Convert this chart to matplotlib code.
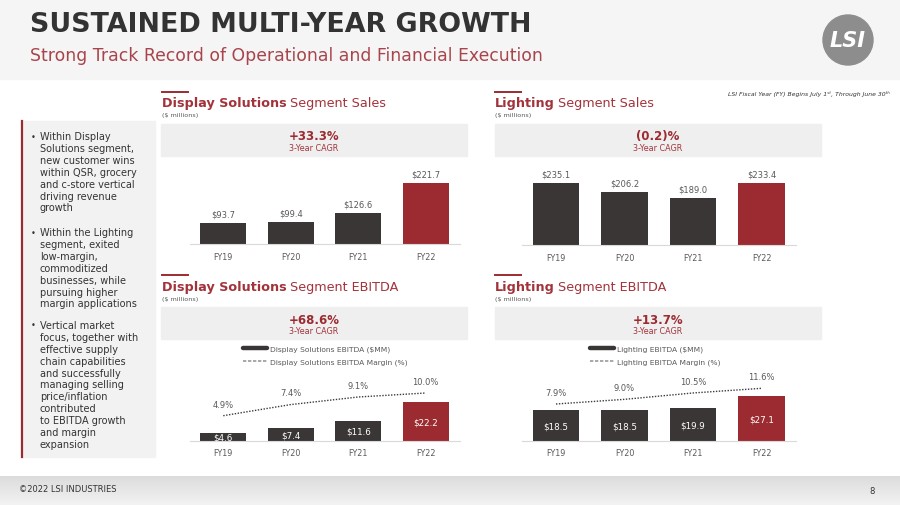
import matplotlib
matplotlib.use("Agg")
import matplotlib.pyplot as plt
import numpy as np
from matplotlib.patches import Rectangle, Circle
from matplotlib.lines import Line2D

plt.rcParams['font.family'] = ['DejaVu Sans']

# ---------------- data ----------------
years = ["FY19", "FY20", "FY21", "FY22"]
ds_sales = [93.7, 99.4, 126.6, 221.7]
lt_sales = [235.1, 206.2, 189.0, 233.4]
ds_ebitda = [4.6, 7.4, 11.6, 22.2]
ds_margin = [4.9, 7.4, 9.1, 10.0]
lt_ebitda = [18.5, 18.5, 19.9, 27.1]
lt_margin = [7.9, 9.0, 10.5, 11.6]
cagr_labels = ["+33.3%", "(0.2)%", "+68.6%", "+13.7%"]

title = "SUSTAINED MULTI-YEAR GROWTH"
subtitle = "Strong Track Record of Operational and Financial Execution"
bullets = [
    ["Within Display", "Solutions segment,", "new customer wins", "within QSR, grocery",
     "and c-store vertical", "driving revenue", "growth"],
    ["Within the Lighting", "segment, exited", "low-margin,", "commoditized",
     "businesses, while", "pursuing higher", "margin applications"],
    ["Vertical market", "focus, together with", "effective supply", "chain capabilities",
     "and successfully", "managing selling", "price/inflation", "contributed",
     "to EBITDA growth", "and margin", "expansion"],
]

# ---------------- style ----------------
W, H = 900, 506
RED = "#9c2b31"
RED_T = "#a3333b"
DARK = "#3a3636"
GRAY_T = "#595959"
BOX = "#efefef"

fig = plt.figure(figsize=(W / 100, H / 100), dpi=100)
fig.patch.set_facecolor("white")
bg = fig.add_axes([0, 0, 1, 1], zorder=0)
bg.set_xlim(0, W)
bg.set_ylim(H, 0)
bg.axis("off")
renderer = fig.canvas.get_renderer()


def px_axes(x0, x1, y_top, y_bot):
    return fig.add_axes([x0 / W, 1 - y_bot / H, (x1 - x0) / W, (y_bot - y_top) / H], zorder=2)


# header
bg.add_patch(Rectangle((0, 0), W, 80, color="#f5f5f5", zorder=0))
bg.text(30, 25, title, fontsize=19.4, fontweight="bold", color="#333333", va="center", ha="left")
bg.text(30, 60.5, subtitle, fontsize=12.4, color="#a8444b", va="baseline", ha="left")
# logo
bg.add_patch(Circle((848, 41), 25, color="#8d8d8d", zorder=1))
bg.text(848, 41, "LSI", fontsize=15, fontweight="bold", fontstyle="italic", color="white",
        ha="center", va="center", zorder=2)

# footnote
bg.text(890, 94, "LSI Fiscal Year (FY) Begins July 1ˢᵗ, Through June 30ᵗʰ", fontsize=4.4,
        fontstyle="italic", color="#333333", ha="right", va="center")

# footer gradient
grad = np.linspace(0, 1, 50).reshape(-1, 1)
bg.imshow(grad, extent=(0, W, 506, 477), cmap=matplotlib.colors.LinearSegmentedColormap.from_list(
    "g", ["#dcdcdc", "#f3f3f3"]), aspect="auto", zorder=0)
bg.set_xlim(0, W)
bg.set_ylim(H, 0)
bg.text(19, 490, "©2022 LSI INDUSTRIES", fontsize=6.0, color="#333333", va="center")
bg.text(872, 492, "8", fontsize=6, color="#333333", va="center", ha="center")

# left bullet box
bg.add_patch(Rectangle((22, 122), 133, 336, color="#f2f2f2", zorder=0))
bg.plot([22, 22], [122, 458], color=RED, lw=1.6, zorder=1)
starts = [137, 233, 326]
for start, lines in zip(starts, bullets):
    bg.text(33, start, "•", fontsize=6, color="#333333", va="center", ha="center")
    for i, ln in enumerate(lines):
        bg.text(40, start + i * 11.9, ln, fontsize=7.0, color="#333333", va="center", ha="left")


def panel_title(x, y_base, bold, regular, line_y):
    bg.plot([x, x + 26], [line_y, line_y], color=RED, lw=1.4)
    t = bg.text(x, y_base, bold, fontsize=9.2, fontweight="bold", color=RED_T, va="baseline")
    bb = t.get_window_extent(renderer)
    bg.text(x + bb.width + 3, y_base, regular, fontsize=9.2, color=RED_T, va="baseline")
    bg.text(x, y_base + 8.5, "($ millions)", fontsize=4.6, color=GRAY_T, va="center")


def cagr_box(x0, x1, y0, y1, label):
    bg.add_patch(Rectangle((x0, y0), x1 - x0, y1 - y0, color=BOX, zorder=0))
    cx = (x0 + x1) / 2
    bg.text(cx, y0 + 12.3, label, fontsize=8.5, fontweight="bold", color=RED, ha="center", va="center")
    bg.text(cx, y0 + 24, "3-Year CAGR", fontsize=5.8, color=RED_T, ha="center", va="center")


panel_title(162, 106.5, "Display Solutions", "Segment Sales", 92.5)
panel_title(495, 106.5, "Lighting", "Segment Sales", 92.5)
panel_title(162, 290.5, "Display Solutions", "Segment EBITDA", 276)
panel_title(495, 290.5, "Lighting", "Segment EBITDA", 276)
cagr_box(161, 467, 124.5, 157, cagr_labels[0])
cagr_box(495, 821, 124.5, 157, cagr_labels[1])
cagr_box(161, 467, 308, 340, cagr_labels[2])
cagr_box(495, 821, 308, 340, cagr_labels[3])

colors = [DARK, DARK, DARK, RED]
x = np.arange(len(years))


def style_ax(ax, pad):
    ax.set_facecolor("none")
    ax.set_xlim(-0.5, 3.5)
    for s in ["top", "right", "left"]:
        ax.spines[s].set_visible(False)
    ax.spines["bottom"].set_color("#d9d9d9")
    ax.spines["bottom"].set_linewidth(0.8)
    ax.set_yticks([])
    ax.set_xticks(x)
    ax.set_xticklabels(years, fontsize=5.8, color=GRAY_T)
    ax.tick_params(axis="x", length=0, pad=pad)


def sales_panel(x0, x1, base, top, vals, ymin, ppu):
    ax = px_axes(x0, x1, top, base)
    ax.bar(x, vals, width=0.68, color=colors, bottom=0)
    ax.set_ylim(ymin, ymin + (base - top) / ppu)
    style_ax(ax, 5.8)
    for xi, v in zip(x, vals):
        ax.annotate(f"${v:.1f}", (xi, v), xytext=(0, 6.5), textcoords="offset points",
                    ha="center", va="center", fontsize=6, color=GRAY_T)
    return ax


sales_panel(189.5, 459.5, 245, 165, ds_sales, 27.5, 0.3125)
sales_panel(521.75, 795.75, 246, 165, lt_sales, 43.4, 0.325)


def ebitda_panel(x0, x1, base, top, vals, margins, ppu, m_ppu, m_zero_y, leg_x, leg_text):
    ax = px_axes(x0, x1, top, base)
    ax.bar(x, vals, width=0.68, color=colors)
    ax.set_ylim(0, (base - top) / ppu)
    style_ax(ax, 4.5)
    for xi, v in zip(x, vals):
        ax.text(xi, v / 2, f"${v:.1f}", ha="center", va="center", fontsize=6.3, color="white")
    ax2 = ax.twinx()
    ax2.set_facecolor("none")
    ax2.axis("off")
    bot = -(base - m_zero_y) / m_ppu
    ax2.set_ylim(bot, bot + (base - top) / m_ppu)
    ax2.set_xlim(-0.5, 3.5)
    ax2.plot(x, margins, color="#3a3a3a", lw=1.0, ls=(0, (1, 1.1)))
    for xi, m in zip(x, margins):
        ax2.annotate(f"{m:.1f}%", (xi, m), xytext=(0, 8.4), textcoords="offset points",
                     ha="center", va="center", fontsize=6, color=GRAY_T)
    handles = [Line2D([0], [0], color=DARK, lw=3.2, solid_capstyle="round"),
               Line2D([0], [0], color="#9a9a9a", lw=1.2, ls=(0, (2, 1)))]
    fig.legend(handles, leg_text, loc="center left",
               bbox_to_anchor=(leg_x / W, 1 - 356 / H), frameon=False, fontsize=5.4,
               labelcolor=GRAY_T, handlelength=3.2, handletextpad=0.45, labelspacing=0.85,
               borderpad=0, borderaxespad=0)
    return ax


ebitda_panel(189.5, 459.5, 442.3, 372, ds_ebitda, ds_margin, 1.78, 4.45, 438.5, 243,
             ["Display Solutions EBITDA ($MM)", "Display Solutions EBITDA Margin (%)"])
ebitda_panel(521.75, 795.75, 442.3, 372, lt_ebitda, lt_margin, 1.68, 4.24, 438.5, 590,
             ["Lighting EBITDA ($MM)", "Lighting EBITDA Margin (%)"])

fig.savefig("out.png", dpi=100)
